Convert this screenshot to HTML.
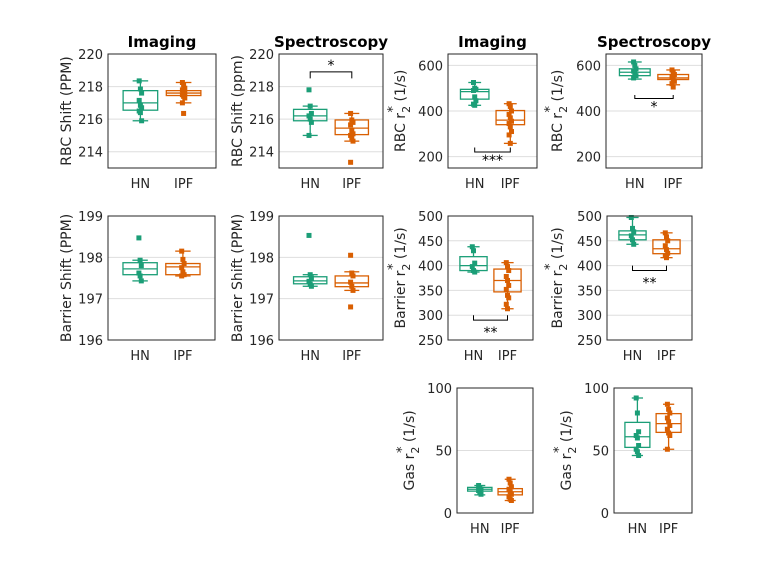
<!DOCTYPE html>
<html><head><meta charset="utf-8"><style>
body{margin:0;background:#fff}
svg{display:block;font-family:"DejaVu Sans","Liberation Sans",sans-serif}
</style></head><body>
<svg id="fig" width="768" height="576" viewBox="0 0 768 576" xmlns="http://www.w3.org/2000/svg"></svg>
<script>
// ---- data ----
const groups = ["HN","IPF"];
const p1Pts = [[218.35,217.85,217.6,217.15,216.85,216.7,216.5,216.4,215.9],[218.25,218.1,217.9,217.8,217.7,217.6,217.5,217.4,217.3,217.0,216.35]];
const p1Box = [[215.9,216.55,217.0,217.75,218.35],[217.0,217.45,217.6,217.75,218.25]];
const p2Pts = [[217.8,216.8,216.35,216.2,216.0,215.8,215.0],[216.35,215.95,215.8,215.65,215.3,215.1,215.0,214.85,214.65,213.35]];
const p2Box = [[215.0,215.9,216.2,216.6,216.8],[214.65,215.05,215.45,215.95,216.35]];
const p3Pts = [[525,500,495,490,462,445,430,425],[432,420,400,385,370,355,345,330,310,295,258]];
const p3Box = [[425,452,485,495,525],[258,340,360,402,432]];
const p4Pts = [[615,600,585,575,565,555,545],[580,570,560,550,540,530,520,505]];
const p4Box = [[540,555,570,585,615],[515,538,545,560,580]];
const p5Pts = [[198.47,197.93,197.8,197.62,197.55,197.43],[198.15,197.95,197.85,197.75,197.65,197.58,197.55]];
const p5Box = [[197.43,197.58,197.72,197.87,197.93],[197.55,197.58,197.77,197.85,198.15]];
const p6Pts = [[198.53,197.58,197.5,197.42,197.35,197.3],[198.05,197.62,197.55,197.4,197.3,197.2,196.8]];
const p6Box = [[197.3,197.36,197.43,197.53,197.58],[197.2,197.29,197.38,197.55,197.65]];
const p7Pts = [[438,430,405,398,390,387],[406,398,390,378,370,360,352,340,335,322,313]];
const p7Box = [[387,390,400,418,438],[313,347,370,393,406]];
const p8Pts = [[497,475,468,460,452,443],[466,458,450,440,432,425,420,416]];
const p8Box = [[443,452,462,470,497],[416,424,434,452,466]];
const p9Pts = [[22,20,19,18,16,15],[27,24,21,19,17,15,13,11,10]];
const p9Box = [[14.5,17.5,19,20.5,22],[10,14.5,17,19.5,27]];
const p10Pts = [[92,80,65,62,60,54,51,49,46],[87,83,80,76,73,70,67,64,62,51]];
const p10Box = [[46,52.5,61,72.5,92],[51,64.5,71.5,79.5,87]];
const ticks213 = [214,216,218,220];
const ticks150 = [200,400,600];
const ticks196 = [196,197,198,199];
const ticks250 = [250,300,350,400,450,500];
const ticks0 = [0,50,100];
// significance: [yBar, yTickEnd, yText, text]
const sig2 = [218.9,218.5,219.4,"*"];
const sig3 = [220,240,190,"***"];
const sig4 = [455,470,425,"*"];
const sig7 = [290,300,268,"**"];
const sig8 = [390,400,368,"**"];

// pre = estimated pixel width of label prefix, tot = estimated full width
const panels = [
 {name:"rbc-shift-imaging",L:108,R:216,T:54,B:168,y0:213,y1:220,ticks:ticks213,pts:p1Pts,box:p1Box,title:"Imaging",lab:["RBC Shift (PPM)"],lx:71},
 {name:"rbc-shift-spectroscopy",L:279,R:383,T:54,B:168,y0:213,y1:220,ticks:ticks213,pts:p2Pts,box:p2Box,title:"Spectroscopy",lab:["RBC Shift (ppm)"],lx:242,sig:sig2},
 {name:"rbc-r2-imaging",L:448,R:537,T:54,B:168,y0:150,y1:650,ticks:ticks150,pts:p3Pts,box:p3Box,title:"Imaging",lab:["RBC r","2"," (1/s)"],pre:39,tot:82,lx:405,sig:sig3},
 {name:"rbc-r2-spectroscopy",L:606,R:702,T:54,B:168,y0:150,y1:650,ticks:ticks150,pts:p4Pts,box:p4Box,title:"Spectroscopy",lab:["RBC r","2"," (1/s)"],pre:39,tot:82,lx:562,sig:sig4},
 {name:"barrier-shift-imaging",L:108,R:215,T:216,B:340,y0:196,y1:199,ticks:ticks196,pts:p5Pts,box:p5Box,lab:["Barrier Shift (PPM)"],lx:71},
 {name:"barrier-shift-spectroscopy",L:279,R:383,T:216,B:340,y0:196,y1:199,ticks:ticks196,pts:p6Pts,box:p6Box,lab:["Barrier Shift (PPM)"],lx:242},
 {name:"barrier-r2-imaging",L:448,R:533,T:216,B:340,y0:250,y1:500,ticks:ticks250,pts:p7Pts,box:p7Box,lab:["Barrier r","2"," (1/s)"],pre:58,tot:101,lx:405,sig:sig7},
 {name:"barrier-r2-spectroscopy",L:607,R:692,T:216,B:340,y0:250,y1:500,ticks:ticks250,pts:p8Pts,box:p8Box,lab:["Barrier r","2"," (1/s)"],pre:58,tot:101,lx:562,sig:sig8},
 {name:"gas-r2-imaging",L:457,R:533,T:388,B:513,y0:0,y1:100,ticks:ticks0,pts:p9Pts,box:p9Box,lab:["Gas r","2"," (1/s)"],pre:37,tot:80,lx:414},
 {name:"gas-r2-spectroscopy",L:614,R:692,T:388,B:513,y0:0,y1:100,ticks:ticks0,pts:p10Pts,box:p10Box,lab:["Gas r","2"," (1/s)"],pre:37,tot:80,lx:571}
];
const colors = ["#1b9e77","#d95f02"];
const NS="http://www.w3.org/2000/svg";
const svg=document.getElementById("fig");
function mk(tag,attrs,parent){const e=document.createElementNS(NS,tag);for(const k in attrs)e.setAttribute(k,attrs[k]);(parent||svg).appendChild(e);return e;}

panels.forEach(p=>{
  const g=mk("g",{});
  
  
  const ys=v=>p.B-(v-p.y0)/(p.y1-p.y0)*(p.B-p.T);
  const xs=v=>p.L+(v-0.25)/2.5*(p.R-p.L);
  const ux=(p.R-p.L)/2.5;
  p.ticks.forEach(t=>{
    const y=ys(t);
    if(t>p.y0&&t<p.y1){const gl=mk("line",{x1:p.L,x2:p.R,y1:y,y2:y,stroke:"#dedede","stroke-width":1},g);
      }
    const tl=mk("text",{x:p.L-5,y:y+5,"text-anchor":"end","font-size":13,fill:"#262626"},g);
    
    tl.textContent=t;
  });
  groups.forEach((gname,i)=>{
    const c=colors[i],cx=xs(i+1),b=p.box[i];
    const bg=mk("g",{stroke:c,"stroke-width":1.3,fill:"none"},g);
    
    
    mk("line",{x1:cx,x2:cx,y1:ys(b[0]),y2:ys(b[1])},bg);
    mk("line",{x1:cx,x2:cx,y1:ys(b[3]),y2:ys(b[4])},bg);
    mk("line",{x1:cx-0.18*ux,x2:cx+0.18*ux,y1:ys(b[0]),y2:ys(b[0])},bg);
    mk("line",{x1:cx-0.18*ux,x2:cx+0.18*ux,y1:ys(b[4]),y2:ys(b[4])},bg);
    mk("rect",{x:cx-0.4*ux,y:ys(b[3]),width:0.8*ux,height:ys(b[1])-ys(b[3])},bg);
    mk("line",{x1:cx-0.4*ux,x2:cx+0.4*ux,y1:ys(b[2]),y2:ys(b[2])},bg);
    p.pts[i].forEach((v,k)=>{
      const off=((k%3)-1)*1.2;
      const pt=mk("rect",{x:cx-2.5+off,y:ys(v)-2.5,width:5,height:5,fill:c},g);
      
      
    });
    const xl=mk("text",{x:cx,y:p.B+20,"text-anchor":"middle","font-size":13,fill:"#262626"},g);
    
    xl.textContent=gname;
  });
  if(p.sig){
    const s=p.sig,x1=xs(1),x2=xs(2);
    const sg=mk("path",{d:`M${x1},${ys(s[1])}L${x1},${ys(s[0])}L${x2},${ys(s[0])}L${x2},${ys(s[1])}`,stroke:"#000",fill:"none","stroke-width":1},g);
    
    const st=mk("text",{x:(x1+x2)/2,y:ys(s[2])+6,"text-anchor":"middle","font-size":14,fill:"#000"},g);
    
    st.textContent=s[3];
  }
  const ab=mk("rect",{x:p.L,y:p.T,width:p.R-p.L,height:p.B-p.T,fill:"none",stroke:"#262626","stroke-width":1},g);
  
  if(p.title){
    const tt=mk("text",{x:(p.L+p.R)/2,y:p.T-7,"text-anchor":"middle","font-size":15,"font-weight":"bold",fill:"#000"},g);
    
    tt.textContent=p.title;
  }
  const cy=(p.T+p.B)/2;
  const lg=mk("g",{transform:`translate(${p.lx},${cy}) rotate(-90)`},g);
  
  if(p.lab.length===1){
    const yl=mk("text",{x:0,y:0,"text-anchor":"middle","font-size":14,fill:"#262626"},lg);
    yl.textContent=p.lab[0];
  } else {
    const x0=-p.tot/2;
    const yl=mk("text",{x:x0,y:0,"text-anchor":"start","font-size":14,fill:"#262626"},lg);
    const a=mk("tspan",{},yl);a.textContent=p.lab[0];
    const b=mk("tspan",{dy:5,"font-size":11},yl);b.textContent=p.lab[1];
    const d=mk("tspan",{dy:-5},yl);d.textContent=p.lab[2];
    const st=mk("text",{x:x0+p.pre+0.5,y:-8,"font-size":13,fill:"#262626"},lg);
    st.textContent="*";
  }
});
</script>
</body></html>
